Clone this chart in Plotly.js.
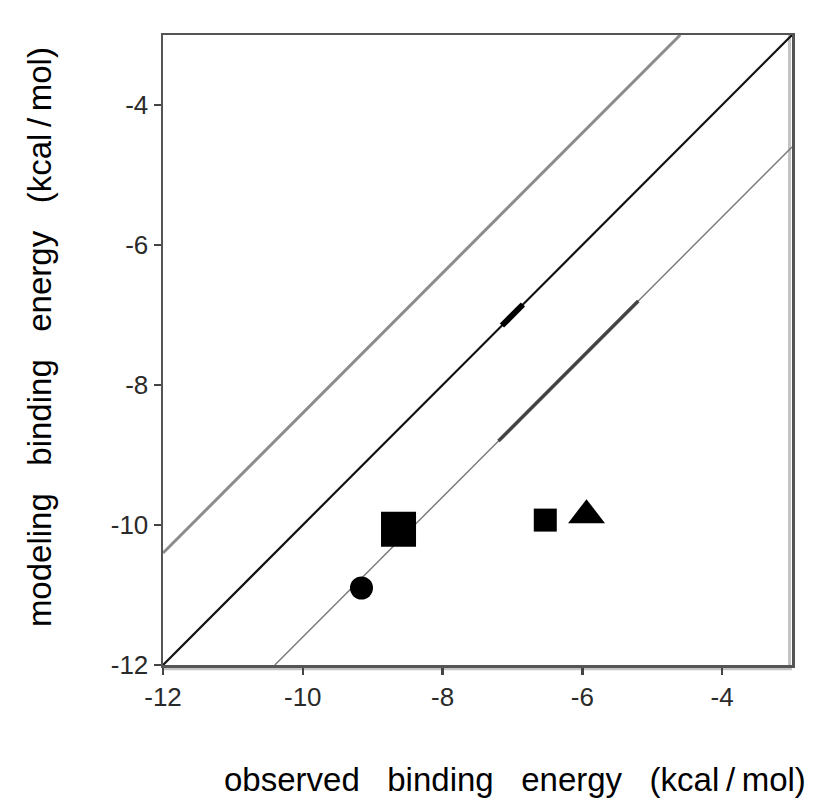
<!DOCTYPE html>
<html>
<head>
<meta charset="utf-8">
<script src="https://cdn.plot.ly/plotly-3.0.1.min.js"></script>
<style>html,body{margin:0;padding:0;background:#fff;}#chart{width:830px;height:806px;}</style>
</head>
<body>
<div id="chart"></div>
<script>
// Reference lines (observed vs modeling)
const identityX = [-12, -3];
const identityY = [-12, -3];
const upperX = [-12, -4.6];
const upperY = [-10.4, -3];
const lowerX = [-10.4, -3];
const lowerY = [-12, -4.6];
const lowerBoldX = [-7.2, -5.2];
const lowerBoldY = [-8.8, -6.8];
const identityBoldX = [-7.15, -6.85];
const identityBoldY = [-7.15, -6.85];

// Data points
const bigSquareX = [-8.63];
const bigSquareY = [-10.06];
const smallSquareX = [-6.53];
const smallSquareY = [-9.93];
const triangleX = [-5.94];
const triangleY = [-9.86];
const circleX = [-9.16];
const circleY = [-10.9];

const tickVals = [-12, -10, -8, -6, -4];
const tickText = ['-12', '-10', '-8', '-6', '-4'];

const sp = '\u00A0\u00A0\u00A0';
const unit = '(kcal\u2009/\u2009mol)';
const xTitle = 'observed' + sp + 'binding' + sp + 'energy' + sp + unit;
const yTitle = 'modeling' + sp + 'binding' + sp + 'energy' + sp + unit;

const traces = [
  {x: upperX, y: upperY, mode: 'lines', line: {color: '#8c8c8c', width: 3}, hoverinfo: 'skip'},
  {x: identityX, y: identityY, mode: 'lines', line: {color: '#111', width: 2.2}, hoverinfo: 'skip'},
  {x: lowerX, y: lowerY, mode: 'lines', line: {color: '#777', width: 1.4}, hoverinfo: 'skip'},
  {x: lowerBoldX, y: lowerBoldY, mode: 'lines', line: {color: '#444', width: 3.5}, hoverinfo: 'skip'},
  {x: identityBoldX, y: identityBoldY, mode: 'lines', line: {color: '#000', width: 6}, hoverinfo: 'skip'},
  {x: bigSquareX, y: bigSquareY, mode: 'markers', marker: {symbol: 'square', size: 35, color: '#000'}},
  {x: smallSquareX, y: smallSquareY, mode: 'markers', marker: {symbol: 'square', size: 23, color: '#000'}},
  {x: triangleX, y: triangleY, mode: 'markers', marker: {symbol: 'triangle-up', size: 32, color: '#000'}},
  {x: circleX, y: circleY, mode: 'markers', marker: {symbol: 'circle', size: 23, color: '#000'}}
];

const font = 'Liberation Sans, Arial, sans-serif';
const axisCommon = {
  range: [-12, -3],
  tickvals: tickVals,
  ticktext: tickText,
  ticks: 'outside',
  ticklen: 7,
  tickwidth: 2.5,
  tickcolor: '#444',
  showline: true,
  linecolor: '#555',
  linewidth: 2.5,
  mirror: true,
  showgrid: false,
  zeroline: false,
  tickfont: {family: font, size: 26, color: '#2a2a2a'}
};

const layout = {
  width: 830,
  height: 806,
  margin: {l: 163, r: 38, t: 35, b: 141},
  paper_bgcolor: '#fff',
  plot_bgcolor: '#fff',
  showlegend: false,
  xaxis: Object.assign({}, axisCommon),
  yaxis: Object.assign({}, axisCommon),
  shapes: [
    {type: 'line', xref: 'paper', yref: 'paper', x0: 0, x1: 1, y0: -0.006, y1: -0.006, line: {color: '#c4c4c4', width: 3}, layer: 'below'},
    {type: 'line', xref: 'paper', yref: 'paper', x0: 0.996, x1: 0.996, y0: 0, y1: 1, line: {color: '#c4c4c4', width: 3}, layer: 'below'}
  ],
  annotations: [
    {text: xTitle, xref: 'paper', yref: 'paper', x: 0.56, y: -0.182, xanchor: 'center', yanchor: 'middle',
     showarrow: false, font: {family: font, size: 33, color: '#000'}},
    {text: yTitle, xref: 'paper', yref: 'paper', x: -0.196, y: 0.52, xanchor: 'center', yanchor: 'middle',
     textangle: -90, showarrow: false, font: {family: font, size: 33, color: '#000'}}
  ]
};

Plotly.newPlot('chart', traces, layout, {displayModeBar: false, staticPlot: true});
</script>
</body>
</html>
